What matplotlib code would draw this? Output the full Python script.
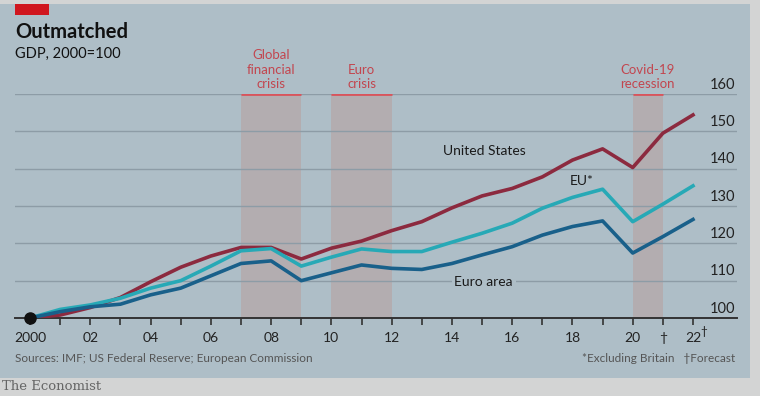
import matplotlib.pyplot as plt
from matplotlib.patches import Rectangle

years = list(range(2000, 2023))
us = [100, 100.8, 102.8, 105.5, 109.7, 113.6, 116.6, 118.9, 118.9, 115.8, 118.7, 120.6,
      123.4, 125.8, 129.5, 132.7, 134.7, 137.8, 142.3, 145.3, 140.3, 149.5, 154.4]
eu = [100, 102.3, 103.5, 105.3, 108.0, 110.0, 113.9, 118.0, 118.6, 113.9, 116.3, 118.5,
      117.8, 117.8, 120.3, 122.7, 125.4, 129.4, 132.3, 134.5, 125.8, 130.5, 135.4]
euro_area = [100, 101.7, 103.0, 103.7, 106.2, 108.0, 111.3, 114.6, 115.3, 110.0, 112.1, 114.2,
             113.3, 113.0, 114.6, 116.9, 119.1, 122.2, 124.5, 126.0, 117.4, 121.8, 126.4]

shades = [(2007, 2009, 'Global\nfinancial\ncrisis'),
          (2010, 2012, 'Euro\ncrisis'),
          (2020, 2021, 'Covid-19\nrecession')]

x_ticks = list(range(2000, 2023, 2)) + [2021]
x_labels = ['2000', '02', '04', '06', '08', '10', '12', '14', '16', '18', '20', '22', '\u2020']
y_ticks = [100, 110, 120, 130, 140, 150, 160]

plt.rcParams['font.family'] = ['Lato', 'DejaVu Sans']

panel = '#aebec7'
fig = plt.figure(figsize=(7.6, 3.96), dpi=100)
fig.patch.set_facecolor('#d3d4d4')
fig.patches.append(Rectangle((0, 18 / 396), 750 / 760, 374 / 396, transform=fig.transFigure,
                             facecolor=panel, edgecolor='none', zorder=-10))
fig.patches.append(Rectangle((15 / 760, 381 / 396), 34 / 760, 11 / 396, transform=fig.transFigure,
                             facecolor='#d0161e', edgecolor='none', zorder=-5))

ax = fig.add_axes([15 / 760, 78 / 396, 722 / 760, 224 / 396])
ax.set_zorder(1)
ax.set_facecolor('none')
ax.set_xlim(1999.5, 2023.46)
ax.set_ylim(100, 160)

for start, end, label in shades:
    ax.axvspan(start, end, color='#b3adb0', lw=0, zorder=1)
    ax.plot([start, end], [160, 160], color='#d9545c', lw=2, zorder=3, solid_capstyle='butt')
    ax.text((start + end) / 2, 161.0, label, color='#c2464f', ha='center', va='bottom',
            fontsize=9.5, linespacing=1.25, clip_on=False)

for v in y_ticks[1:]:
    ax.axhline(v, color='#8d9ca6', lw=1, zorder=2)
    ax.text(2023.4, v + 0.6, str(v), ha='right', va='bottom', fontsize=10.5, color='#222222')
ax.text(2023.4, 100.6, '100', ha='right', va='bottom', fontsize=10.5, color='#222222')

ax.plot(years, us, color='#8c2a3f', lw=2.6, zorder=5)
ax.plot(years, eu, color='#27a9b6', lw=2.6, zorder=5)
ax.plot(years, euro_area, color='#19608a', lw=2.6, zorder=5)
ax.plot([2000], [100], 'o', color='#111111', ms=8, zorder=6, clip_on=False)

ax.text(2013.7, 144.8, 'United States', fontsize=10, color='#1a1a1a', va='center')
ax.text(2018.3, 136.8, 'EU*', fontsize=10, color='#1a1a1a', va='center', ha='center')
ax.text(2015.05, 109.7, 'Euro area', fontsize=10, color='#1a1a1a', va='center', ha='center',
        zorder=4, bbox=dict(facecolor=panel, edgecolor='none', pad=2))

for s in ['top', 'right', 'left']:
    ax.spines[s].set_visible(False)
ax.spines['bottom'].set_color('#333333')
ax.spines['bottom'].set_linewidth(1.4)
ax.spines['bottom'].set_zorder(4)
ax.set_yticks([])
ax.set_xticks(x_ticks)
ax.set_xticklabels(x_labels, fontsize=10, color='#222222')
ax.set_xticks(years, minor=True)
ax.tick_params(axis='x', which='both', direction='out', length=5, width=1.2, color='#333333', pad=5)
# dagger after the 22 label
ax.annotate('\u2020', xy=(2022, 100), xytext=(5.5, -6), textcoords='offset points',
            fontsize=8.5, color='#222222', va='top', ha='left', annotation_clip=False)

fig.text(15 / 760, 1 - 32 / 396, 'Outmatched', fontsize=14.5, fontweight='bold', color='#111111', va='center')
fig.text(15 / 760, 1 - 54 / 396, 'GDP, 2000=100', fontsize=10.5, color='#111111', va='center')
fig.text(15 / 760, 1 - 358 / 396, 'Sources: IMF; US Federal Reserve; European Commission',
         fontsize=8.5, color='#555555', va='center')
fig.text(735 / 760, 1 - 358 / 396, '*Excluding Britain   \u2020Forecast',
         fontsize=8.5, color='#555555', va='center', ha='right')
fig.text(2 / 760, 1 - 386 / 396, 'The Economist', family='DejaVu Serif', fontsize=9.5,
         color='#666666', va='center')

fig.savefig('out.png', dpi=100, facecolor=fig.get_facecolor())
